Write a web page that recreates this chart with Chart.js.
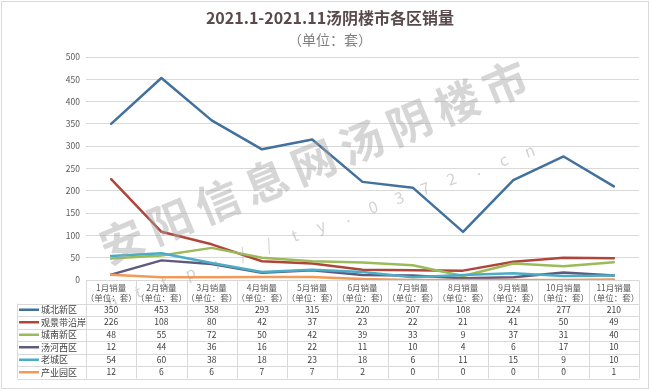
<!DOCTYPE html>
<html>
<head>
<meta charset="utf-8">
<script src="https://cdn.jsdelivr.net/npm/chart.js@4/dist/chart.umd.min.js"></script>
<style>
  html,body{margin:0;padding:0;background:#fff;}
  #wrap{width:650px;height:391px;position:relative;}
</style>
</head>
<body>
<div id="wrap"><canvas id="c" width="650" height="391"></canvas></div>
<script>
const months = ['1月','2月','3月','4月','5月','6月','7月','8月','9月','10月','11月'];
const headerLine2 = '（单位：套）';
const seriesNames = ['城北新区','观景带沿岸','城南新区','汤河西区','老城区','产业园区'];
const chengbei   = [350,453,358,293,315,220,207,108,224,277,210];
const guanjing   = [226,108,80,42,37,23,22,21,41,50,49];
const chengnan   = [48,55,72,50,42,39,33,9,37,31,40];
const tanghe     = [12,44,36,16,22,11,10,4,6,17,10];
const laocheng   = [54,60,38,18,23,18,6,11,15,9,10];
const chanye     = [12,6,6,7,7,2,0,0,0,0,1];
const seriesValues = [chengbei, guanjing, chengnan, tanghe, laocheng, chanye];
const seriesColors = ['#41719c','#b0463a','#9bbb59','#5f5a80','#4bacc6','#f29a58'];
const yTicks = [0,50,100,150,200,250,300,350,400,450,500];
const titleText = '2021.1-2021.11汤阴楼市各区销量';
const subtitleText = '（单位：套）';
const watermarkText = '安阳信息网汤阴楼市';
const watermarkUrl = 'http://ty.0372.cn';

const FONT = '"Noto Sans CJK SC","Noto Sans",sans-serif';

const framePlugin = {
  id: 'framePlugin',
  beforeDraw(chart) {
    const ctx = chart.ctx;
    ctx.save();
    ctx.fillStyle = '#fff';
    ctx.fillRect(0,0,chart.width,chart.height);
    ctx.strokeStyle = '#d9d9d9';
    ctx.lineWidth = 1;
    ctx.strokeRect(1.5,1.5,chart.width-3,chart.height-4);
    // title
    ctx.textAlign = 'center';
    ctx.textBaseline = 'middle';
    ctx.fillStyle = '#594b4b';
    ctx.font = 'bold 16px ' + FONT;
    ctx.fillText(titleText, 330, 18);
    ctx.fillStyle = '#7f7f7f';
    ctx.font = '14px ' + FONT;
    ctx.fillText(subtitleText, 330, 40);
    ctx.restore();
  },
  afterDatasetsDraw(chart) {
    const ctx = chart.ctx;
    ctx.save();
    // big watermark
    const a1 = Math.atan2(83-241, 505-122);
    ctx.translate(122, 241);
    ctx.rotate(a1);
    ctx.fillStyle = 'rgba(165,165,165,0.45)';
    ctx.font = 'bold 44px ' + FONT;
    ctx.textAlign = 'center';
    ctx.textBaseline = 'middle';
    const step = Math.hypot(505-122, 83-241) / (watermarkText.length-1);
    for (let i=0;i<watermarkText.length;i++) {
      ctx.fillText(watermarkText[i], i*step, 0);
    }
    ctx.restore();
    ctx.save();
    const a2 = Math.atan2(-9.4, 26.1);
    ctx.translate(112, 301);
    ctx.rotate(a2);
    ctx.fillStyle = 'rgba(165,165,165,0.5)';
    ctx.font = '16px ' + FONT;
    ctx.textAlign = 'center';
    ctx.textBaseline = 'middle';
    const step2 = Math.hypot(26.1, 9.4);
    for (let i=0;i<watermarkUrl.length;i++) {
      ctx.fillText(watermarkUrl[i], i*step2, 0);
    }
    ctx.restore();
  },
  afterDraw(chart) {
    const ctx = chart.ctx;
    const ca = chart.chartArea;
    const n = months.length;
    const colW = (ca.right - ca.left) / n;
    const top = Math.round(ca.bottom) + 0.5;
    const headerBottom = 303.5;
    const rowH = 12.5;
    const bottom = headerBottom + rowH * seriesNames.length;
    const legLeft = 17.5;
    ctx.save();
    ctx.strokeStyle = '#d9d9d9';
    ctx.lineWidth = 1;
    ctx.beginPath();
    for (let i=0;i<=n;i++) {
      const x = Math.round(ca.left + i*colW) + 0.5;
      ctx.moveTo(x, top); ctx.lineTo(x, bottom);
    }
    ctx.moveTo(legLeft, headerBottom); ctx.lineTo(legLeft, bottom);
    for (let r=0;r<=seriesNames.length;r++) {
      const y = Math.round(headerBottom + r*rowH) + 0.5;
      ctx.moveTo(legLeft, y); ctx.lineTo(Math.round(ca.right)+0.5, y);
    }
    ctx.stroke();

    // header
    ctx.textAlign = 'center';
    ctx.textBaseline = 'middle';
    ctx.fillStyle = '#595959';
    ctx.font = '8.5px ' + FONT;
    for (let i=0;i<n;i++) {
      const cx = chart.scales.x.getPixelForValue(i);
      ctx.fillText(months[i] + '销量', cx, 287.5);
      ctx.fillText(headerLine2, cx, 297.5);
    }
    // values
    ctx.font = '8.5px ' + FONT;
    ctx.fillStyle = '#404040';
    for (let r=0;r<seriesNames.length;r++) {
      const cy = headerBottom + (r+0.5)*rowH;
      for (let i=0;i<n;i++) {
        const cx = chart.scales.x.getPixelForValue(i);
        ctx.fillText(String(seriesValues[r][i]), cx, cy);
      }
      // legend
      ctx.strokeStyle = seriesColors[r];
      ctx.lineWidth = 2.5;
      ctx.beginPath();
      ctx.moveTo(19, cy); ctx.lineTo(39, cy);
      ctx.stroke();
      ctx.textAlign = 'left';
      ctx.fillStyle = '#404040';
      ctx.font = '9px ' + FONT;
      ctx.fillText(seriesNames[r], 41, cy);
      ctx.textAlign = 'center';
      ctx.font = '8.5px ' + FONT;
    }
    ctx.restore();
  }
};

const datasets = seriesNames.map((name, i) => ({
  label: name,
  data: seriesValues[i],
  borderColor: seriesColors[i],
  backgroundColor: seriesColors[i],
  borderWidth: 2.5,
  pointRadius: 0,
  tension: 0,
  borderJoinStyle: 'round',
  borderCapStyle: 'round',
  order: seriesNames.length - i
}));

new Chart(document.getElementById('c'), {
  type: 'line',
  data: { labels: months, datasets },
  plugins: [framePlugin],
  options: {
    responsive: false,
    animation: false,
    layout: { padding: { top: 57, bottom: 111, left: 0, right: 11 } },
    plugins: { legend: { display: false }, title: { display: false }, tooltip: { enabled: false } },
    scales: {
      x: { type: 'category', offset: true, display: false },
      y: {
        min: 0, max: 500,
        afterFit(scale) { scale.width = 86; },
        afterBuildTicks(scale) { scale.ticks = yTicks.map(v => ({ value: v })); },
        ticks: { color: '#595959', font: { size: 8.5, family: FONT }, padding: 6 },
        grid: { color: '#d9d9d9', drawTicks: false, lineWidth: 1 },
        border: { display: false }
      }
    }
  }
});
</script>
</body>
</html>
